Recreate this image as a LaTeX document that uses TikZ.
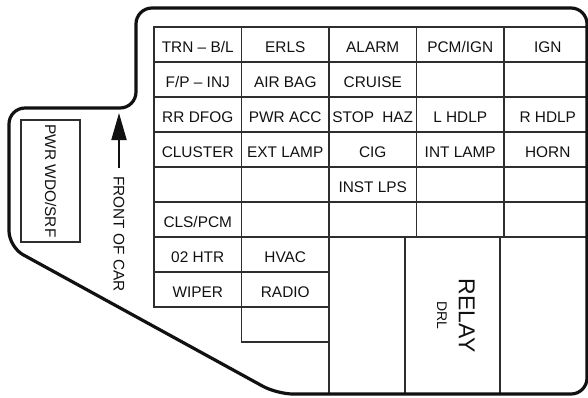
\documentclass[tikz,border=0pt]{standalone}
\usepackage{fontspec}
\setmainfont{Liberation Sans}
\usetikzlibrary{arrows.meta}
\definecolor{cink}{HTML}{111111}
\definecolor{cgrid}{HTML}{2E2E2E}
\newcommand{\fusesize}{\fontsize{15.4pt}{18pt}\selectfont}
\tikzset{
  every picture/.style={font=\fusesize, line width=1.5pt, x=1pt, y=-1pt},
  fuse/.style={draw=cgrid, minimum width=#1, minimum height=35pt, inner sep=0pt, outer sep=0pt,
    anchor=north west, text height=15pt, text depth=0pt, text=cink},
  fuse/.default=87.5pt,
  upright/.style={rotate=-90, inner sep=0pt, outer sep=0pt, text depth=0pt, text=cink},
  outline/.style={draw=cink, line width=3.2pt, rounded corners=16pt},
  frontarrow/.style={-{Triangle[length=27pt, width=15pt]}, draw=cink, line width=2pt},
}

\begin{document}
\begin{tikzpicture}
  \useasboundingbox (0,0) rectangle (588,397);
  \begin{scope}
    \clip[rounded corners=16pt] (300,8) -- (587,8) -- (587,394) -- (277,394) -- (9,247) -- (9,108) -- (136,108) -- (136,8) -- cycle;
    % fuse rows
    \foreach \t [count=\i from 0] in {TRN -- B/L, ERLS, ALARM, PCM/IGN, IGN}
      \node[fuse] (a\i) at (154+87.5*\i, 27) {\t};
    \foreach \t [count=\i from 0] in {F/P -- INJ, AIR BAG, CRUISE, {}, {}}
      \node[fuse] (b\i) at (154+87.5*\i, 62) {\t};
    \foreach \t [count=\i from 0] in {RR DFOG, PWR ACC, STOP\hspace{4pt} HAZ, L HDLP, R HDLP}
      \node[fuse] (c\i) at (154+87.5*\i, 97) {\t};
    \foreach \t [count=\i from 0] in {CLUSTER, EXT LAMP, CIG, INT LAMP, HORN}
      \node[fuse] (d\i) at (154+87.5*\i, 132) {\t};
    \foreach \t [count=\i from 0] in {{}, {}, INST LPS, {}, {}}
      \node[fuse] (e\i) at (154+87.5*\i, 167) {\t};
    \foreach \t [count=\i from 0] in {CLS/PCM, {}, {}, {}, {}}
      \node[fuse] (f\i) at (154+87.5*\i, 202) {\t};
    \node[fuse] (g0) at (154,237) {02 HTR};
    \node[fuse] (h0) at (154,272) {WIPER};
    \node[fuse] (g1) at (241.5,237) {HVAC};
    \node[fuse] (h1) at (241.5,272) {RADIO};
    \node[fuse] (i1) at (241.5,307) {};
    % relay bays
    \node[fuse=76pt, minimum height=157pt] (bayl) at (329,237) {};
    \node[fuse=95pt, minimum height=157pt] (relay) at (405,237) {};
    \node[fuse=88pt, minimum height=157pt] (bayr) at (500,237) {};
  \end{scope}
  \draw[outline] (300,8) -- (587,8) -- (587,394) -- (277,394) -- (9,247) -- (9,108) -- (136,108) -- (136,8) -- cycle;
  \node[upright, font=\fontsize{23pt}{26pt}\selectfont, text height=16.5pt] (relaytxt) at ([xshift=14.5pt]relay.center) {RELAY};
  \node[upright, font=\fontsize{14pt}{16pt}\selectfont, text height=10pt] (drl) at ([xshift=-10.5pt]relay.center) {DRL};
  \node[upright, draw=cgrid, line width=1.3pt, minimum width=122pt, minimum height=59pt, text height=11pt] (wdo) at (50.5,181) {PWR WDO/SRF};
  \node[upright, text height=11pt] (front) at (119,234) {FRONT OF CAR};
  \coordinate (fronttip) at (119,113);
  \draw[frontarrow, shorten <=8pt] (front.west) -- (fronttip);
\end{tikzpicture}
\end{document}
